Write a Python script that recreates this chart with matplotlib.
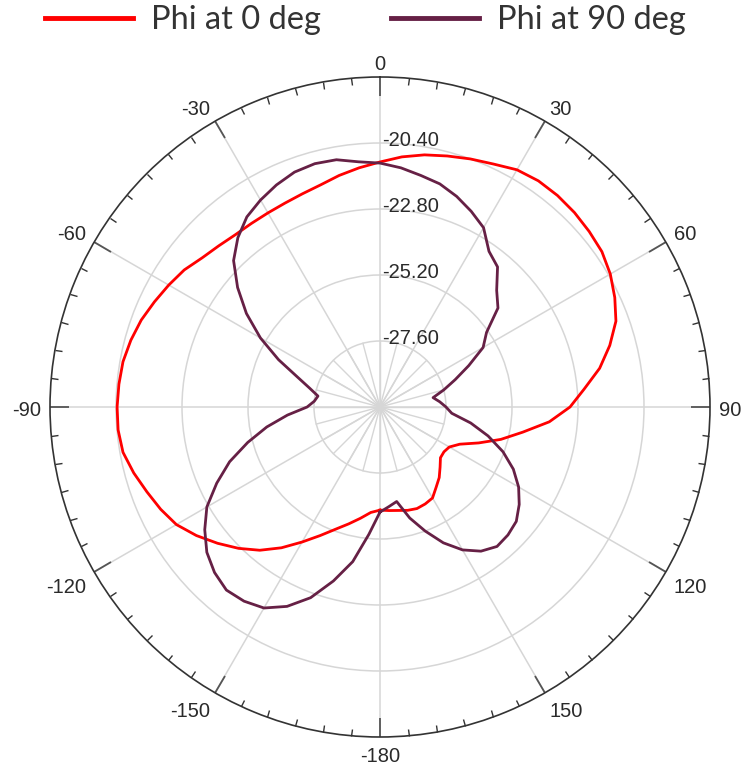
import numpy as np
import matplotlib
matplotlib.use("Agg")
import matplotlib.pyplot as plt
from matplotlib.transforms import ScaledTranslation

# ---- data ----
series_names = ["Phi at 0 deg", "Phi at 90 deg"]
angles_deg = list(range(-180, 180, 5))

phi0_db = [-26.25, -26.15, -25.89, -25.60, -25.27, -24.84, -24.33, -23.75, -23.20, -22.73,
           -22.29, -21.85, -21.45, -21.20, -20.98, -20.73, -20.51, -20.44, -20.44, -20.47,
           -20.51, -20.62, -20.76, -20.95, -21.13, -21.31, -21.56, -21.71, -21.82, -21.85,
           -21.85, -21.82, -21.75, -21.64, -21.45, -21.27, -21.09, -20.87, -20.69, -20.55,
           -20.40, -20.25, -20.04, -19.96, -19.96, -20.00, -20.07, -20.15, -20.33, -20.58,
           -20.87, -21.35, -21.89, -22.55, -23.09, -23.82, -24.73, -25.45, -26.18, -26.80,
           -27.09, -27.16, -27.13, -26.91, -26.65, -26.44, -26.18, -26.11, -26.07, -26.11,
           -26.18, -26.22]

phi90_db = [-26.18, -25.35, -24.29, -23.45, -22.62, -22.00, -21.56, -21.38, -21.31, -21.49,
            -21.78, -22.22, -22.73, -23.45, -24.18, -25.02, -25.82, -26.62, -27.35, -27.60,
            -27.71, -27.35, -26.80, -25.93, -24.98, -24.07, -23.24, -22.47, -21.96, -21.56,
            -21.31, -21.09, -20.91, -20.84, -20.87, -21.05, -21.13, -21.27, -21.45, -21.60,
            -21.85, -22.15, -22.47, -23.09, -23.35, -24.00, -24.40, -25.27, -25.67, -26.44,
            -27.09, -27.60, -28.04, -27.82, -27.60, -27.38, -26.65, -25.93, -25.24, -24.65,
            -24.18, -23.82, -23.53, -23.42, -23.38, -23.60, -24.00, -24.55, -25.20, -25.82,
            -26.51, -26.36]

theta_tick_deg = list(range(0, 360, 30))
theta_tick_labels = ["0", "30", "60", "90", "120", "150", "-180", "-150", "-120", "-90", "-60", "-30"]
r_ticks = [-27.60, -25.20, -22.80, -20.40]
r_tick_labels = ["-27.60", "-25.20", "-22.80", "-20.40"]
r_min, r_max = -30.0, -18.0

colors = ["#ff0000", "#662045"]

# ---- figure ----
W, H, DPI = 743, 769, 100
fig = plt.figure(figsize=(W / DPI, H / DPI), dpi=DPI)
cx, cy, R = 380, 407, 330
ax = fig.add_axes([(cx - R) / W, (H - cy - R) / H, 2 * R / W, 2 * R / H], projection="polar")
ax.set_theta_zero_location("N")
ax.set_theta_direction(-1)
ax.set_ylim(r_min, r_max)

label_font = dict(family=["Liberation Sans", "DejaVu Sans"], size=14.5, color="#2a2a2a")

ax.set_xticks(np.deg2rad(theta_tick_deg))
ax.set_xticklabels([])
ax.set_xticks(np.deg2rad(np.arange(0, 360, 5)), minor=True)
ax.tick_params(axis="x", which="both", top=True, bottom=False)
ax.tick_params(axis="x", which="major", direction="in", length=14, width=1.3, color="#555555")
ax.tick_params(axis="x", which="minor", direction="in", length=5, width=1.0, color="#333333")

ax.set_yticks(r_ticks)
ax.set_yticklabels([])
ax.tick_params(axis="y", length=0)
ax.grid(True, which="major", color="#d6d6d6", linewidth=1.1)
ax.xaxis.grid(False, which="minor")

ax.spines["polar"].set_color("#333333")
ax.spines["polar"].set_linewidth(1.2)

# extra short spokes inside inner ring
for t in np.arange(0, 360, 15):
    ax.plot([np.deg2rad(t)] * 2, [r_min, r_ticks[0]], color="#d6d6d6", lw=1.0, zorder=1)

# radial labels
off = ScaledTranslation(1.5 / 72, 1.8 / 72, fig.dpi_scale_trans)
for rv, rl in zip(r_ticks, r_tick_labels):
    ax.text(0, rv, rl, ha="left", va="center", transform=ax.transData + off, zorder=5, **label_font)

# theta labels: anchored just outside the circle, aligned away from the centre
gap_px, shift_px, digit_h = 9.0, 2.0, 14.4
for tdeg, tl in zip(theta_tick_deg, theta_tick_labels):
    a = np.deg2rad(tdeg)
    s, c = np.sin(a), np.cos(a)
    dx = gap_px * s
    dy = gap_px * c - shift_px
    if abs(s) < 1e-6:
        ha = "center"
    else:
        ha = "left" if s > 0 else "right"
    if abs(c) < 1e-6:
        dy -= digit_h / 2
    elif c < 0:
        dy -= digit_h
    tr = ax.transData + ScaledTranslation(dx / DPI, dy / DPI, fig.dpi_scale_trans)
    ax.text(a, r_max, tl, ha=ha, va="baseline", transform=tr, clip_on=False, **label_font)

# series
th = np.deg2rad(angles_deg + [angles_deg[0]])
lines = []
for vals, col, name in zip([phi0_db, phi90_db], colors, series_names):
    v = list(vals) + [vals[0]]
    ln, = ax.plot(th, v, color=col, lw=2.0, label=name, zorder=4)
    lines.append(ln)

fig.legend(handles=lines, labels=series_names, loc="center left",
           bbox_to_anchor=(45 / W, 1 - 20 / H), ncol=2, frameon=False,
           prop=dict(family=["Lato", "DejaVu Sans"], size=23.5),
           handlelength=2.7, handletextpad=0.55, columnspacing=2.15,
           borderaxespad=0, borderpad=0)
for lh in fig.legends[0].legend_handles:
    lh.set_linewidth(3.5)
for t in fig.legends[0].get_texts():
    t.set_color("#333333")

fig.savefig("out.png", dpi=DPI)
